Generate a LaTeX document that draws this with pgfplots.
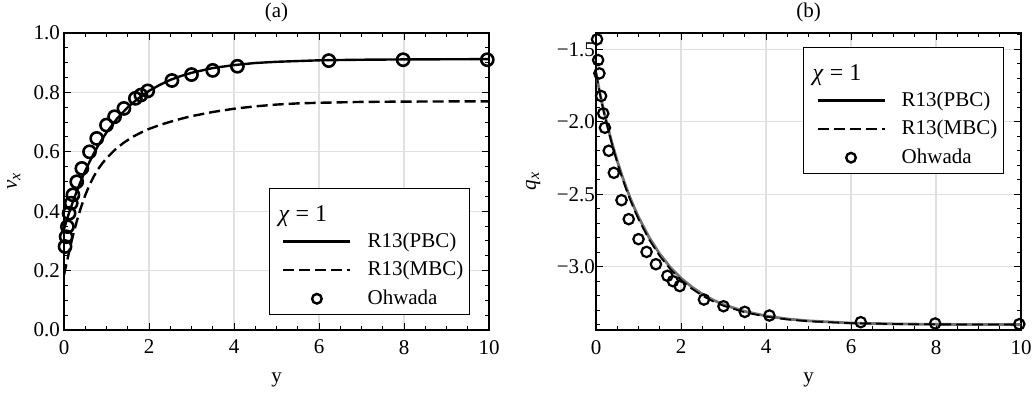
\documentclass[border=0pt]{standalone}
\usepackage{fontspec}
\setmainfont{Liberation Serif}
\usepackage{pgfplots}
\pgfplotsset{compat=1.18}

\newcommand{\lfont}{\fontsize{10.5}{12}\selectfont}
\newcommand{\chititle}{\raisebox{-1.5pt}[11.5pt][0pt]{\makebox[0pt][l]{\hspace{-44.5pt}\fontsize{12}{14}\selectfont\textit{χ} = 1}}}
\pgfplotsset{
  myaxis/.style={
    width=212.5pt, height=148.5pt, scale only axis,
    xmin=0, xmax=10,
    xtick={0,2,4,6,8,10},
    minor xtick={0,0.5,...,10},
    tick align=inside,
    major tick length=3.3pt, minor tick length=2pt,
    every tick/.style={black, line width=0.5pt},
    axis line style={black, line width=0.6pt},
    grid=major,
    major grid style={draw=black!12, line width=0.6pt},
    tick label style={font=\lfont},
    /pgf/number format/assume math mode=true,
    xticklabel style={yshift=-1.5pt},
    label style={font=\lfont},
    title style={font=\lfont, at={(0.5,1)}, anchor=base, yshift=1.5pt},
    xlabel={y},
    xlabel style={at={(0.5,0)}, anchor=base, yshift=-26.5pt},
    legend cell align=left,
    legend image code/.code={\path (0pt,0pt); \draw[mark repeat=2,mark phase=2,##1] plot coordinates {(5.5pt,0pt) (22.25pt,0pt) (39pt,0pt)};},
    legend style={draw=black, line width=0.6pt, fill=white, font=\lfont,
      inner xsep=1pt, inner ysep=2.5pt, row sep=3.5pt,
      nodes={inner ysep=1pt, inner xsep=2pt},
      /tikz/every odd column/.append style={column sep=6pt}},
  }
}

\begin{document}
\begin{tikzpicture}
\path[use as bounding box] (0,0) rectangle (517.5pt,197.5pt);

\begin{axis}[myaxis,
  at={(32pt,32.5pt)}, anchor=south west,
  title={(a)},
  ymin=0, ymax=1,
  ytick={0,0.2,0.4,0.6,0.8,1},
  yticklabels={0.0,0.2,0.4,0.6,0.8,1.0},
  minor ytick={0,0.05,...,1},
  yticklabel style={xshift=1.5pt},
  ylabel={\textit{v}\raisebox{-0.35ex}{\fontsize{8}{9}\selectfont\textit{x}}},
  ylabel style={at={(axis description cs:-0.118,0.5)}, anchor=center},
  legend style={at={(0.955,0.05)}, anchor=south east},
]
\addplot[black, line width=1.2pt, forget plot] coordinates {
(0,0.340)(0.05,0.363)(0.1,0.386)(0.15,0.407)(0.2,0.428)(0.3,0.467)(0.4,0.503)(0.5,0.536)(0.6,0.566)(0.7,0.594)(0.8,0.620)(0.9,0.643)(1.0,0.665)(1.25,0.712)(1.5,0.750)(1.75,0.780)(2.0,0.805)(2.25,0.825)(2.5,0.842)(2.75,0.855)(3.0,0.866)(3.5,0.882)(4.0,0.892)(4.5,0.899)(5.0,0.903)(6.0,0.908)(7.0,0.910)(8.0,0.911)(10,0.912)};
\addplot[black, line width=1.2pt, dash pattern=on 5.5pt off 2.5pt, forget plot] coordinates {
(0,0.185)(0.05,0.218)(0.1,0.250)(0.15,0.282)(0.2,0.312)(0.3,0.366)(0.4,0.413)(0.5,0.454)(0.6,0.488)(0.7,0.517)(0.8,0.541)(0.9,0.561)(1.0,0.578)(1.2,0.607)(1.4,0.630)(1.6,0.649)(1.8,0.664)(2.0,0.677)(2.25,0.690)(2.5,0.701)(2.75,0.711)(3.0,0.720)(3.5,0.734)(4.0,0.745)(4.5,0.753)(5.0,0.759)(5.5,0.763)(6.0,0.765)(7.0,0.768)(8.0,0.769)(10,0.770)};
\addplot[black, only marks, mark=o, mark size=3.05pt, mark options={line width=1.3pt}, forget plot] coordinates {
(0.025,0.281)(0.05,0.314)(0.08,0.348)(0.12,0.393)(0.17,0.427)(0.21,0.455)(0.3,0.499)(0.42,0.544)(0.6,0.600)(0.77,0.645)(1.0,0.690)(1.19,0.718)(1.41,0.746)(1.68,0.780)(1.81,0.791)(1.97,0.805)(2.54,0.840)(3.0,0.860)(3.5,0.874)(4.08,0.888)(6.23,0.907)(7.98,0.910)(9.96,0.910)};
\addlegendimage{empty legend}
\addlegendentry{\chititle}
\addlegendimage{black, line width=1.2pt}
\addlegendentry{R13(PBC)}
\addlegendimage{black, line width=1.2pt, dash pattern=on 5.5pt off 2.5pt}
\addlegendentry{R13(MBC)}
\addlegendimage{black, only marks, mark=o, mark size=2.4pt, mark options={line width=1.2pt}}
\addlegendentry{Ohwada}
\end{axis}

\begin{axis}[myaxis,
  at={(298pt,32.5pt)}, anchor=south west,
  title={(b)},
  ymin=-3.437, ymax=-1.387,
  ytick={-3,-2.5,-2,-1.5},
  yticklabels={−3.0,−2.5,−2.0,−1.5},
  minor ytick={-3.4,-3.3,...,-1.4},
  yticklabel style={xshift=3pt},
  ylabel={\textit{q}\raisebox{-0.35ex}{\fontsize{8}{9}\selectfont\textit{x}}},
  ylabel style={at={(axis description cs:-0.148,0.5)}, anchor=center},
  legend style={at={(0.96,0.525)}, anchor=south east},
]
\addplot[black!55, line width=1.4pt, forget plot] coordinates {
(0,-1.660)(0.05,-1.740)(0.1,-1.815)(0.15,-1.882)(0.2,-1.946)(0.3,-2.063)(0.4,-2.171)(0.5,-2.270)(0.6,-2.361)(0.7,-2.445)(0.8,-2.522)(0.9,-2.592)(1.0,-2.657)(1.25,-2.798)(1.5,-2.912)(1.75,-3.005)(2.0,-3.079)(2.25,-3.139)(2.5,-3.189)(2.75,-3.229)(3.0,-3.262)(3.5,-3.309)(4.0,-3.340)(4.5,-3.361)(5.0,-3.374)(6.0,-3.389)(7.0,-3.395)(8.0,-3.398)(10,-3.400)};
\addplot[black, line width=0.9pt, dash pattern=on 5.5pt off 2.5pt, forget plot] coordinates {
(0,-1.660)(0.05,-1.742)(0.1,-1.818)(0.15,-1.887)(0.2,-1.952)(0.3,-2.071)(0.4,-2.181)(0.5,-2.281)(0.6,-2.373)(0.7,-2.458)(0.8,-2.536)(0.9,-2.607)(1.0,-2.672)(1.25,-2.813)(1.5,-2.927)(1.75,-3.018)(2.0,-3.092)(2.25,-3.151)(2.5,-3.200)(2.75,-3.239)(3.0,-3.270)(3.5,-3.315)(4.0,-3.345)(4.5,-3.364)(5.0,-3.377)(6.0,-3.390)(7.0,-3.396)(8.0,-3.398)(10,-3.400)};
\addplot[black, only marks, mark=o, mark size=2.6pt, mark options={line width=1.1pt}, forget plot] coordinates {
(0.025,-1.431)(0.05,-1.574)(0.08,-1.666)(0.12,-1.822)(0.17,-1.942)(0.21,-2.041)(0.3,-2.200)(0.42,-2.352)(0.6,-2.541)(0.77,-2.672)(1.0,-2.810)(1.19,-2.898)(1.41,-2.983)(1.68,-3.063)(1.81,-3.100)(1.97,-3.134)(2.54,-3.227)(3.0,-3.273)(3.5,-3.312)(4.08,-3.337)(6.23,-3.383)(7.98,-3.392)(9.96,-3.397)};
\addlegendimage{empty legend}
\addlegendentry{\chititle}
\addlegendimage{black, line width=1.2pt}
\addlegendentry{R13(PBC)}
\addlegendimage{black, line width=1.2pt, dash pattern=on 5.5pt off 2.5pt}
\addlegendentry{R13(MBC)}
\addlegendimage{black, only marks, mark=o, mark size=2.4pt, mark options={line width=1.2pt}}
\addlegendentry{Ohwada}
\end{axis}
\end{tikzpicture}
\end{document}
